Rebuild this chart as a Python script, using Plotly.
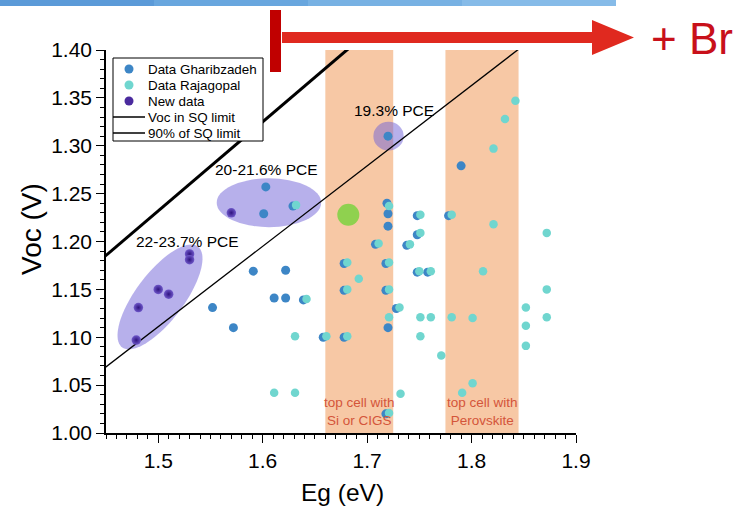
import math
import plotly.graph_objects as go

# ---------------- data ----------------
# Data Gharibzadeh (Eg in eV, Voc in V)
gh_eg = [1.603, 1.601, 1.591, 1.622, 1.611, 1.622, 1.552, 1.572, 1.720, 1.790,
         1.719, 1.720, 1.720, 1.720, 1.629, 1.639, 1.658, 1.678, 1.678, 1.678,
         1.718, 1.718, 1.708, 1.738, 1.748, 1.778, 1.748, 1.748, 1.758, 1.728, 1.718]
gh_voc = [1.257, 1.229, 1.169, 1.170, 1.141, 1.141, 1.131, 1.110, 1.310, 1.279,
          1.240, 1.229, 1.216, 1.110, 1.237, 1.139, 1.100, 1.100, 1.149, 1.177,
          1.177, 1.149, 1.197, 1.196, 1.227, 1.227, 1.207, 1.168, 1.168, 1.130, 1.020]

# Data Rajagopal
rj_eg = [1.632, 1.631, 1.661, 1.611, 1.631, 1.642, 1.842, 1.832, 1.821, 1.821,
         1.872, 1.721, 1.751, 1.781, 1.751, 1.711, 1.741, 1.681, 1.721, 1.692,
         1.681, 1.721, 1.750, 1.761, 1.811, 1.872, 1.731, 1.852, 1.721, 1.751,
         1.761, 1.781, 1.801, 1.872, 1.852, 1.681, 1.751, 1.852, 1.771, 1.801,
         1.791, 1.732, 1.721]
rj_voc = [1.238, 1.101, 1.101, 1.042, 1.042, 1.140, 1.347, 1.328, 1.297, 1.218,
          1.209, 1.237, 1.228, 1.228, 1.209, 1.198, 1.197, 1.178, 1.178, 1.161,
          1.150, 1.150, 1.169, 1.169, 1.169, 1.150, 1.131, 1.131, 1.121, 1.121,
          1.121, 1.121, 1.120, 1.121, 1.112, 1.101, 1.101, 1.091, 1.081, 1.052,
          1.042, 1.041, 1.021]

# New data
new_eg = [1.570, 1.530, 1.530, 1.500, 1.510, 1.481, 1.479]
new_voc = [1.230, 1.187, 1.181, 1.150, 1.145, 1.131, 1.097]

# highlighted device
hl_eg = [1.682]
hl_voc = [1.228]

# Shockley-Queisser limit lines
sq_eg = [1.40, 1.90]
sq_voc = [1.139, 1.604]
sq90_voc = [1.027, 1.447]

# shaded bandgap windows for the top cell
band_lo = [1.660, 1.775]
band_hi = [1.725, 1.845]
band_text = ["top cell with<br>Si or CIGS", "top cell with<br>Perovskite"]

# PCE group labels
pce_text = ["22-23.7% PCE", "20-21.6% PCE", "19.3% PCE"]
pce_eg = [1.528, 1.604, 1.726]
pce_voc = [1.200, 1.275, 1.337]

x_ticks = [1.5, 1.6, 1.7, 1.8, 1.9]
y_ticks = [1.00, 1.05, 1.10, 1.15, 1.20, 1.25, 1.30, 1.35, 1.40]

# legend entries: label, kind, colour
legend_items = [
    ("Data Gharibzadeh", "marker", "#3d86c6"),
    ("Data Rajagopal", "marker", "#70d6cf"),
    ("New data", "marker", "#4a2a9e"),
    ("Voc in SQ limit", "line", "black"),
    ("90% of SQ limit", "line", "black"),
]

# ---------------- layout geometry ----------------
W, H = 740, 508
ML, MR, MT, MB = 106, 164, 50, 75
PW, PH = W - ML - MR, H - MT - MB
XR = [1.45, 1.90]
YR = [1.00, 1.40]
FONT = "Arial, Liberation Sans, sans-serif"
GH_COL, RJ_COL = "#3d86c6", "#70d6cf"


def px(xp):
    """page pixel x -> paper coordinate"""
    return (xp - ML) / PW


def py(yp):
    """page pixel y -> paper coordinate"""
    return (H - MB - yp) / PH


def ellipse_path(cx, cy, a_px, b_px, angle_deg, n=90):
    ux = (XR[1] - XR[0]) / PW
    uy = (YR[1] - YR[0]) / PH
    th = math.radians(angle_deg)
    pts = []
    for k in range(n):
        t = 2 * math.pi * k / n
        dx = a_px * math.cos(t) * math.cos(th) - b_px * math.sin(t) * math.sin(th)
        dy = a_px * math.cos(t) * math.sin(th) + b_px * math.sin(t) * math.cos(th)
        pts.append((cx + dx * ux, cy + dy * uy))
    return "M " + " L ".join(f"{x:.5f},{y:.5f}" for x, y in pts) + " Z"


fig = go.Figure()

fig.add_trace(go.Scatter(x=sq_eg, y=sq_voc, mode="lines", name="Voc in SQ limit",
                         line=dict(color="black", width=3)))
fig.add_trace(go.Scatter(x=sq_eg, y=sq90_voc, mode="lines", name="90% of SQ limit",
                         line=dict(color="black", width=1.3)))
fig.add_trace(go.Scatter(x=gh_eg, y=gh_voc, mode="markers", name="Data Gharibzadeh",
                         marker=dict(color=GH_COL, size=9)))
fig.add_trace(go.Scatter(x=rj_eg, y=rj_voc, mode="markers", name="Data Rajagopal",
                         marker=dict(color=RJ_COL, size=8.5)))
fig.add_trace(go.Scatter(x=new_eg, y=new_voc, mode="markers", name="New data",
                         marker=dict(color="#6f58c9", size=9.5,
                                     gradient=dict(type="radial", color="#2f1380"))))
fig.add_trace(go.Scatter(x=hl_eg, y=hl_voc, mode="markers", name="",
                         marker=dict(color="#8fd14f", size=22)))

shapes = []
for lo, hi in zip(band_lo, band_hi):
    shapes.append(dict(type="rect", xref="x", yref="y", x0=lo, x1=hi, y0=YR[0], y1=YR[1],
                       fillcolor="#f7c8a5", line=dict(width=0), layer="below"))

ell_fill = "rgba(112,98,216,0.50)"
shapes.append(dict(type="path", xref="x", yref="y", layer="below",
                   path=ellipse_path(1.5017, 1.1421, 63, 24, 53),
                   fillcolor=ell_fill, line=dict(width=0)))
shapes.append(dict(type="circle", xref="x", yref="y", layer="below",
                   x0=1.556, x1=1.656, y0=1.215, y1=1.266,
                   fillcolor=ell_fill, line=dict(width=0)))
shapes.append(dict(type="circle", xref="x", yref="y", layer="below",
                   x0=1.706, x1=1.735, y0=1.295, y1=1.325,
                   fillcolor=ell_fill, line=dict(width=0)))

# legend box with its symbols
shapes.append(dict(type="rect", xref="paper", yref="paper", layer="above",
                   x0=px(113), x1=px(263), y0=py(141), y1=py(58),
                   fillcolor="white", line=dict(color="black", width=1)))
annotations = []
for i, (label, kind, col) in enumerate(legend_items):
    yrow = 69 + 16 * i
    if kind == "marker":
        shapes.append(dict(type="circle", xref="paper", yref="paper", layer="above",
                           x0=px(124.5), x1=px(133.5), y0=py(yrow + 4.5), y1=py(yrow - 4.5),
                           fillcolor=col, line=dict(width=0)))
    else:
        shapes.append(dict(type="line", xref="paper", yref="paper", layer="above",
                           x0=px(113), x1=px(145), y0=py(yrow), y1=py(yrow),
                           line=dict(color=col, width=1.5)))
    annotations.append(dict(text=label, x=px(146), y=py(yrow), xref="paper", yref="paper",
                            xanchor="left", yanchor="middle", showarrow=False,
                            font=dict(family=FONT, size=13.4, color="black")))

# header strip
strip_cols = ["#5b9ad8", "#68a6de", "#77b1e3", "#86bbe8"]
seg = 616 / len(strip_cols)
for i, c in enumerate(strip_cols):
    shapes.append(dict(type="rect", xref="paper", yref="paper",
                       x0=px(i * seg), x1=px((i + 1) * seg), y0=py(6), y1=py(0),
                       fillcolor=c, line=dict(width=0), layer="above"))

# "+ Br" arrow
shapes.append(dict(type="rect", xref="paper", yref="paper",
                   x0=px(270), x1=px(281), y0=py(72), y1=py(10),
                   fillcolor="#c00000", line=dict(width=0), layer="above"))
arrow_pts = [(282, 32), (592, 32), (592, 20), (634, 37.5), (592, 55), (592, 43), (282, 43)]
shapes.append(dict(type="path", xref="paper", yref="paper", layer="above",
                   path="M " + " L ".join(f"{px(a):.5f},{py(b):.5f}" for a, b in arrow_pts) + " Z",
                   fillcolor="#e0291f", line=dict(width=0)))

for t, xe, yv in zip(pce_text, pce_eg, pce_voc):
    annotations.append(dict(text=t, x=xe, y=yv, xref="x", yref="y", showarrow=False,
                            font=dict(family=FONT, size=15.5, color="black")))
for t, lo, hi in zip(band_text, band_lo, band_hi):
    annotations.append(dict(text=t, x=(lo + hi) / 2, y=1.022, xref="x", yref="y",
                            showarrow=False, align="center",
                            font=dict(family=FONT, size=13.5, color="#d4553a")))
annotations.append(dict(text="+ Br", x=px(649), y=py(38), xref="paper", yref="paper",
                        xanchor="left", yanchor="middle", showarrow=False,
                        font=dict(family=FONT, size=44, color="#c8101a")))
# axis titles
annotations.append(dict(text="Voc (V)", x=px(31), y=py(229), xref="paper", yref="paper",
                        textangle=-90, showarrow=False, xanchor="center", yanchor="middle",
                        font=dict(family=FONT, size=28, color="black")))
annotations.append(dict(text="Eg (eV)", x=px(342), y=py(492), xref="paper", yref="paper",
                        showarrow=False, xanchor="center", yanchor="middle",
                        font=dict(family=FONT, size=24.5, color="black")))

axis_common = dict(showgrid=False, zeroline=False, showline=True, linecolor="black",
                   linewidth=1.5, tickcolor="black", tickwidth=1.3, automargin=False)

fig.update_layout(
    width=W, height=H,
    margin=dict(l=ML, r=MR, t=MT, b=MB),
    paper_bgcolor="white", plot_bgcolor="white",
    font=dict(family=FONT, color="black"),
    showlegend=False,
    xaxis=dict(range=XR, tickvals=x_ticks, ticktext=[f"{v:.1f}" for v in x_ticks],
               ticks="outside", ticklen=8,
               minor=dict(dtick=0.01, tick0=1.45, ticks="outside", ticklen=4, tickcolor="black"),
               tickfont=dict(size=21), **axis_common),
    yaxis=dict(range=YR, tickvals=y_ticks, ticktext=[f"{v:.2f}" for v in y_ticks],
               ticks="outside", ticklen=8,
               minor=dict(dtick=0.01, tick0=1.0, ticks="outside", ticklen=4, tickcolor="black"),
               tickfont=dict(size=21), **axis_common),
    xaxis2=dict(range=XR, overlaying="x", side="top", anchor="y", tickvals=x_ticks,
                ticks="inside", ticklen=7, showticklabels=False,
                minor=dict(dtick=0.01, tick0=1.45, ticks="inside", ticklen=4, tickcolor="black"),
                **axis_common),
    yaxis2=dict(range=YR, overlaying="y", side="right", anchor="x", tickvals=y_ticks,
                ticks="inside", ticklen=7, showticklabels=False,
                minor=dict(dtick=0.01, tick0=1.0, ticks="inside", ticklen=4, tickcolor="black"),
                **axis_common),
    shapes=shapes,
    annotations=annotations,
)

fig.write_html("out.html")
